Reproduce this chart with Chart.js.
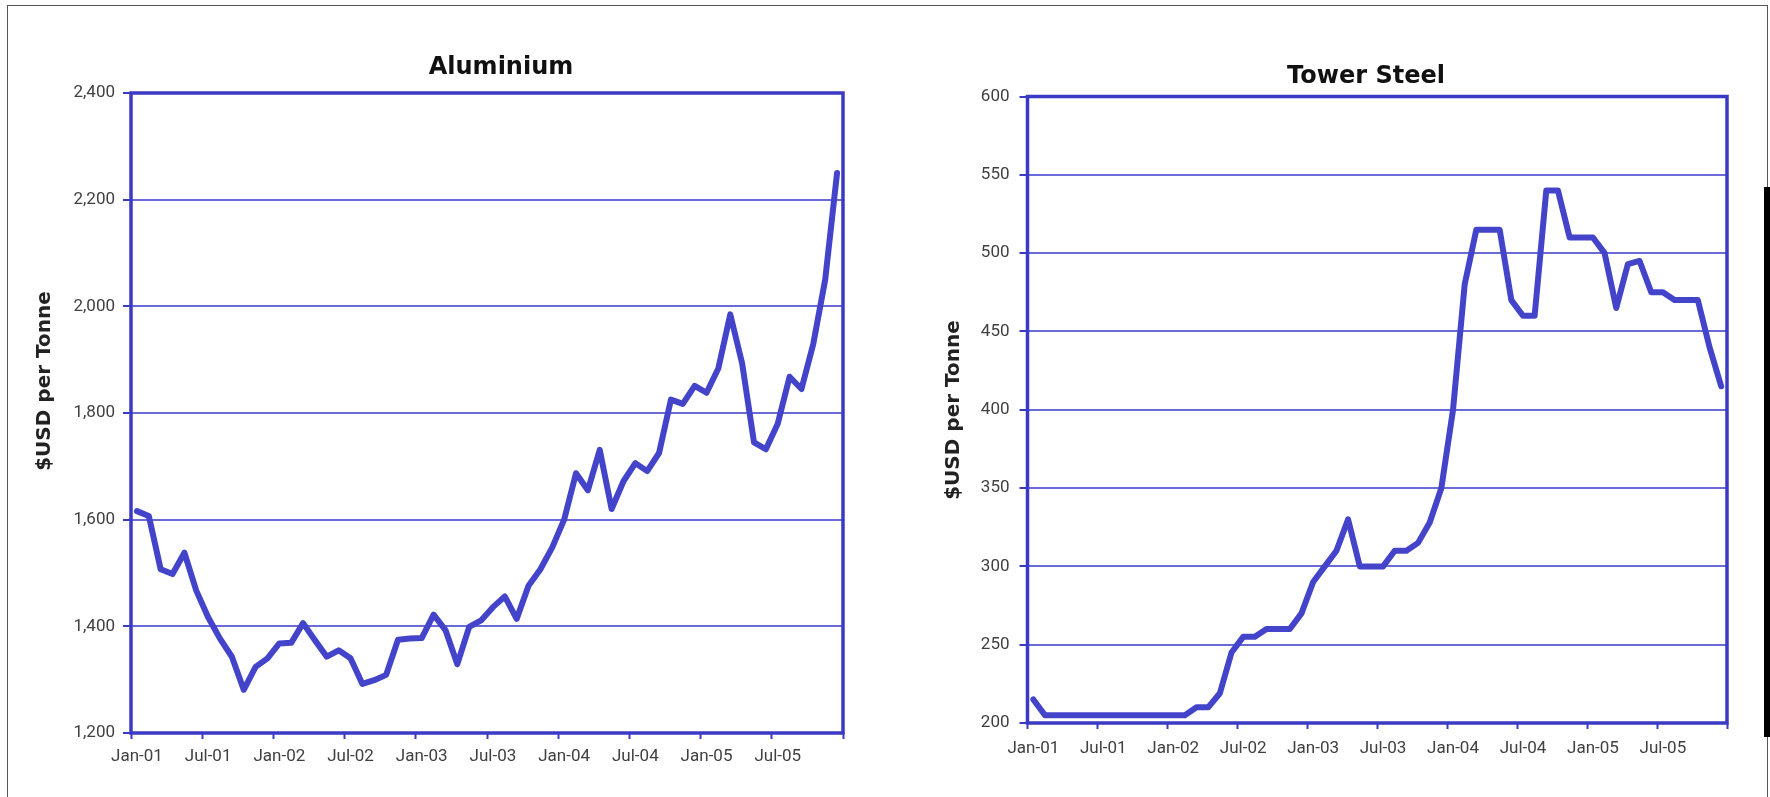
<!DOCTYPE html>
<html>
<head>
<meta charset="utf-8">
<title>Aluminium and Tower Steel prices</title>
<script src="https://cdn.jsdelivr.net/npm/chart.js@4.4.1/dist/chart.umd.min.js"></script>
<style>
  html, body { margin: 0; padding: 0; background: #fff; }
  #page { position: relative; width: 1770px; height: 797px; overflow: hidden; }
  #page canvas { position: absolute; top: 0; }
  #aluCanvas { left: 0; }
  #steelCanvas { left: 885px; }
  .rule { position: absolute; background: #555; }
</style>
</head>
<body>
<div id="page">
  <div class="rule" style="left:7px;top:5px;width:1761px;height:1px"></div>
  <div class="rule" style="left:7px;top:5px;width:1px;height:792px"></div>
  <div class="rule" style="left:1767px;top:5px;width:1px;height:792px"></div>
  <div class="rule" style="left:1764px;top:187px;width:6px;height:550px;background:#000"></div>
  <canvas id="aluCanvas" width="885" height="797"></canvas>
  <canvas id="steelCanvas" width="885" height="797"></canvas>
</div>
<script>
// categories: one point a month, Jan-01 .. Dec-05
const years = ['01', '02', '03', '04', '05'];
const months = ['Jan', 'Feb', 'Mar', 'Apr', 'May', 'Jun', 'Jul', 'Aug', 'Sep', 'Oct', 'Nov', 'Dec'];
const monthLabels = [];
years.forEach(function (y) {
    months.forEach(function (m) { monthLabels.push(m + '-' + y); });
});
const labelEvery = 6; // only Jan and Jul get a label and a tick mark

// $USD per tonne
const aluminiumPrices = [
    1616, 1607, 1507, 1498, 1538, 1467, 1417, 1377, 1343, 1281, 1324, 1340,
    1368, 1369, 1406, 1374, 1343, 1355, 1340, 1292, 1299, 1309, 1375, 1377,
    1378, 1422, 1393, 1329, 1399, 1411, 1436, 1456, 1414, 1476, 1507, 1548,
    1600, 1687, 1655, 1731, 1620, 1672, 1706, 1691, 1725, 1825, 1817, 1851,
    1838, 1884, 1985, 1893, 1745, 1732, 1780, 1868, 1845, 1930, 2050, 2250
];
const towerSteelPrices = [
    215, 205, 205, 205, 205, 205, 205, 205, 205, 205, 205, 205,
    205, 205, 210, 210, 219, 245, 255, 255, 260, 260, 260, 270,
    290, 300, 310, 330, 300, 300, 300, 310, 310, 315, 328, 350,
    400, 480, 515, 515, 515, 470, 460, 460, 540, 540, 510, 510,
    510, 500, 465, 493, 495, 475, 475, 470, 470, 470, 440, 415
];

// y axis tick values
const aluminiumTicks = [1200, 1400, 1600, 1800, 2000, 2200, 2400];
const towerSteelTicks = [200, 250, 300, 350, 400, 450, 500, 550, 600];

const LINE = '#4444cb';
const FRAME = '#3a3ac4';
const GRID = '#6a6ad9';
const TICK_TEXT = '#404040';

// blue box round the plot area
const plotFrame = {
    id: 'plotFrame',
    beforeDatasetsDraw(chart) {
        const a = chart.chartArea;
        const ctx = chart.ctx;
        ctx.save();
        ctx.strokeStyle = FRAME;
        ctx.lineWidth = 3.5;
        ctx.strokeRect(a.left, a.top, a.right - a.left, a.bottom - a.top);
        ctx.restore();
    }
};

// chart title and the rotated y axis title
const sheetText = {
    id: 'sheetText',
    afterDraw(chart, args, opts) {
        const ctx = chart.ctx;
        ctx.save();
        ctx.textAlign = 'center';
        ctx.textBaseline = 'alphabetic';
        ctx.fillStyle = '#111';
        ctx.font = 'bold 24px "DejaVu Sans"';
        ctx.fillText(opts.title, opts.titleX, opts.titleY);
        ctx.translate(opts.axisX, opts.axisY);
        ctx.rotate(-Math.PI / 2);
        ctx.fillStyle = '#222';
        ctx.font = 'bold 20px "DejaVu Sans"';
        ctx.fillText(opts.axisTitle, 0, 0);
        ctx.restore();
    }
};

function priceChart(canvasId, values, yTicks, fmtTick, box, text) {
    return new Chart(document.getElementById(canvasId), {
        type: 'line',
        data: {
            labels: monthLabels,
            datasets: [{
                data: values,
                borderColor: LINE,
                borderWidth: 6,
                borderJoinStyle: 'round',
                borderCapStyle: 'round',
                pointRadius: 0,
                tension: 0,
                fill: false
            }]
        },
        options: {
            responsive: false,
            animation: false,
            events: [],
            layout: { padding: { top: box.top, right: box.right, left: 0, bottom: 0 } },
            plugins: {
                legend: { display: false },
                tooltip: { enabled: false },
                sheetText: text
            },
            scales: {
                x: {
                    offset: true,
                    afterFit: function (s) { s.height = box.xHeight; },
                    border: { display: false },
                    grid: {
                        offset: true,
                        drawOnChartArea: false,
                        drawTicks: true,
                        tickLength: 6,
                        tickWidth: 2,
                        tickColor: function (c) {
                            return (c.index === undefined || c.index % labelEvery === 0) ? FRAME : 'rgba(0,0,0,0)';
                        }
                    },
                    ticks: {
                        autoSkip: false,
                        maxRotation: 0,
                        minRotation: 0,
                        padding: box.labelPad,
                        color: TICK_TEXT,
                        font: { family: 'Roboto', size: 17 },
                        callback: function (v, i) { return i % labelEvery === 0 ? monthLabels[i] : ''; }
                    }
                },
                y: {
                    min: yTicks[0],
                    max: yTicks[yTicks.length - 1],
                    afterBuildTicks: function (s) { s.ticks = yTicks.map(function (v) { return { value: v }; }); },
                    afterFit: function (s) { s.width = box.yWidth; },
                    border: { display: false },
                    grid: { color: GRID, lineWidth: 2, tickLength: 8, tickWidth: 2, tickColor: FRAME },
                    ticks: {
                        padding: box.labelPad,
                        color: TICK_TEXT,
                        font: { family: 'Roboto', size: 17 },
                        callback: fmtTick
                    }
                }
            }
        },
        plugins: [plotFrame, sheetText]
    });
}

priceChart('aluCanvas', aluminiumPrices, aluminiumTicks,
    function (v) { return v.toLocaleString('en-US'); },
    { top: 93, right: 42, yWidth: 131, xHeight: 64, labelPad: 8 },
    { title: 'Aluminium', titleX: 501, titleY: 74, axisTitle: '$USD per Tonne', axisX: 50, axisY: 381 });

priceChart('steelCanvas', towerSteelPrices, towerSteelTicks,
    function (v) { return String(v); },
    { top: 96.5, right: 43, yWidth: 142.5, xHeight: 74, labelPad: 10 },
    { title: 'Tower Steel', titleX: 481, titleY: 83, axisTitle: '$USD per Tonne', axisX: 74, axisY: 410 });
</script>
</body>
</html>
